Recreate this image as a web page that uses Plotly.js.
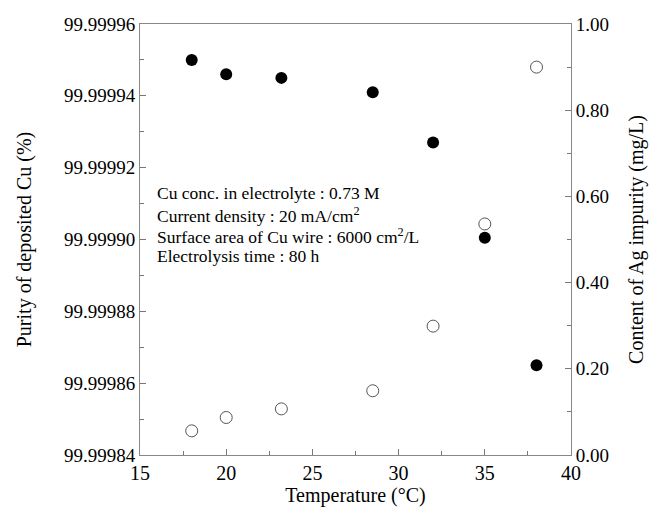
<!DOCTYPE html>
<html>
<head>
<meta charset="utf-8">
<script src="https://cdn.plot.ly/plotly-3.0.1.min.js"></script>
<style>html,body{margin:0;padding:0;background:#fff;}#chart{width:655px;height:520px;}</style>
</head>
<body>
<div id="chart"></div>
<script>
const temperature = [18, 20, 23.2, 28.5, 32, 35, 38];
const purityCu = [99.99995, 99.999946, 99.999945, 99.999941, 99.999927, 99.9999005, 99.999865];
const agContent = [0.056, 0.087, 0.107, 0.149, 0.299, 0.536, 0.90];
const conditions = [
  "Cu conc. in electrolyte : 0.73 M",
  "Current density : 20 mA/cm<sup>2</sup>",
  "Surface area of Cu wire : 6000 cm<sup>2</sup>/L",
  "Electrolysis time : 80 h"
];

const FONT = "Liberation Serif, Times New Roman, serif";
const traces = [
  {x: temperature, y: purityCu, type: 'scatter', mode: 'markers', yaxis: 'y',
   marker: {symbol: 'circle', size: 12, color: '#000', line: {width: 0}}},
  {x: temperature, y: agContent, type: 'scatter', mode: 'markers', yaxis: 'y2',
   marker: {symbol: 'circle-open', size: 12, color: '#555', line: {width: 1}}}
];

const lineY = [0.608, 0.558, 0.508, 0.462];
const annotations = conditions.map((t, i) => ({
  xref: 'paper', yref: 'paper', x: 0.035, y: lineY[i], xanchor: 'left', yanchor: 'middle',
  align: 'left', showarrow: false, text: t,
  font: {family: FONT, size: 17.5, color: '#000'}
}));

const layout = {
  width: 655, height: 520,
  margin: {l: 140, r: 84, t: 24, b: 65},
  paper_bgcolor: '#fff', plot_bgcolor: '#fff',
  showlegend: false,
  font: {family: FONT, color: '#000', size: 19},
  xaxis: {
    range: [15, 40], dtick: 5, tick0: 15,
    ticks: 'inside', ticklen: 6, tickcolor: '#777', tickwidth: 1,
    minor: {dtick: 2.5, ticks: 'inside', ticklen: 4, tickcolor: '#777'},
    showline: true, linecolor: '#888', linewidth: 1, mirror: true,
    showgrid: false, zeroline: false,
    tickfont: {family: FONT, size: 20},
    title: {text: 'Temperature (°C)', font: {family: FONT, size: 20}, standoff: 4}
  },
  yaxis: {
    range: [99.99984, 99.99996], dtick: 0.00002, tick0: 99.99984,
    tickformat: '.5f',
    ticks: 'inside', ticklen: 6, tickcolor: '#777',
    minor: {dtick: 0.00001, ticks: 'inside', ticklen: 4, tickcolor: '#777'},
    showline: true, linecolor: '#888', linewidth: 1,
    showgrid: false, zeroline: false,
    tickfont: {family: FONT, size: 19},
    title: {text: 'Purity of deposited Cu (%)', font: {family: FONT, size: 20}, standoff: 26}
  },
  yaxis2: {
    overlaying: 'y', side: 'right',
    range: [0, 1], dtick: 0.2, tick0: 0, tickformat: '.2f',
    ticks: 'inside', ticklen: 6, tickcolor: '#777',
    minor: {dtick: 0.1, ticks: 'inside', ticklen: 4, tickcolor: '#777'},
    showline: true, linecolor: '#888', linewidth: 1,
    showgrid: false, zeroline: false,
    tickfont: {family: FONT, size: 19},
    title: {text: 'Content of Ag impurity (mg/L)', font: {family: FONT, size: 20}, standoff: 20}
  },
  annotations: annotations
};

Plotly.newPlot('chart', traces, layout, {staticPlot: true, displayModeBar: false});
</script>
</body>
</html>
